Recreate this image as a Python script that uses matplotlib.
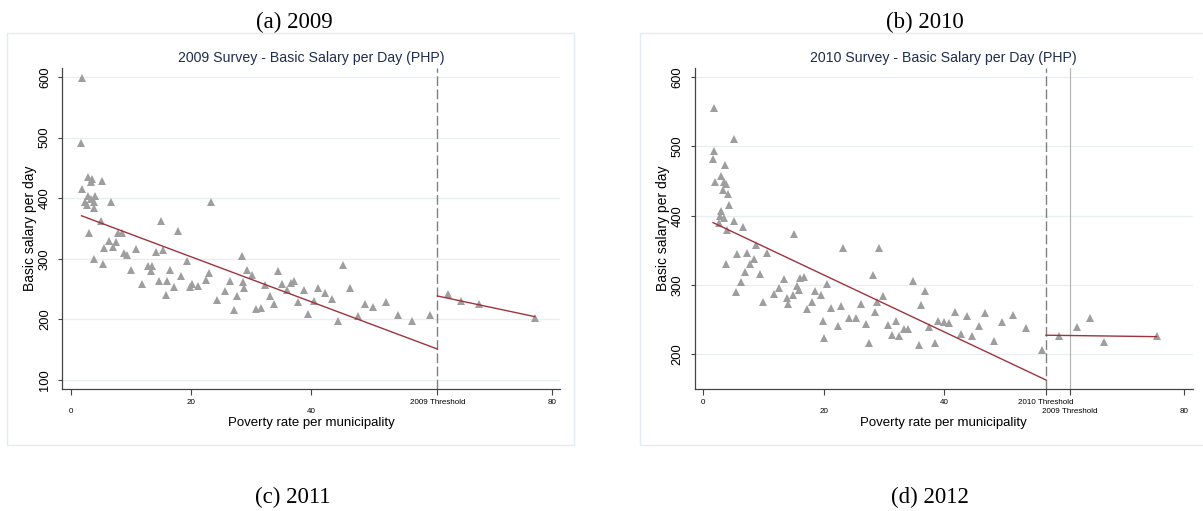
import matplotlib.pyplot as plt
from matplotlib.patches import Rectangle

# 2009 survey: poverty rate per municipality vs basic salary per day
pov_2009 = [1.8, 1.7, 2.9, 3.6, 3.3, 5.2, 1.9, 2.8, 4.05, 2.4,
            3.8, 3.4, 2.7, 3.8, 6.65, 3.05, 5.05, 15.0, 7.9, 8.5,
            17.8, 6.4, 7.5, 5.5, 7.0, 8.9, 9.4, 10.9, 14.2, 15.4,
            3.8, 5.4, 10.0, 12.8, 13.6, 13.4, 11.9, 14.75, 16.0, 16.6,
            18.4, 19.4, 15.8, 17.25, 19.9, 20.1, 21.2, 22.5, 23.0, 23.4,
            24.3, 25.6, 26.5, 27.2, 27.7, 28.5, 28.6, 28.9, 29.3, 30.1,
            30.9, 31.6,
            32.3, 34.5, 33.1, 33.8, 35.2, 35.9, 36.6, 37.1, 37.8, 38.8,
            39.5, 40.5, 41.2, 42.3, 43.4, 44.4, 45.3, 46.4, 47.8, 49.0,
            50.3, 52.5, 54.4, 56.7, 59.7, 62.7, 65.0, 67.9, 77.2]
sal_2009 = [598, 491, 435, 432, 427, 428, 415, 403, 404, 393,
            393, 399, 388, 384, 394, 343, 363, 363, 343, 342,
            346, 330, 327, 317, 319, 310, 306, 316, 312, 314,
            299, 292, 282, 288, 288, 280, 258, 264, 264, 281,
            271, 296, 241, 254, 254, 259, 255, 265, 277, 393,
            232, 246, 264, 216, 239, 305, 261, 251, 281, 273,
            217, 218,
            257, 280, 239, 226, 258, 248, 260, 263, 228, 248,
            209, 231, 252, 244, 234, 197, 289, 251, 206, 226,
            220, 229, 208, 198, 207, 242, 231, 225, 203]

# 2010 survey
pov_2010 = [1.83, 5.16, 1.83, 1.55, 3.55, 2.94, 1.94, 3.5, 3.8, 3.2,
            4.05, 4.3, 3.0, 2.7, 3.4, 2.55, 5.05, 6.6, 3.94, 15.0,
            8.8, 5.6, 7.27, 10.6, 8.4, 3.77, 7.8, 7.0, 9.4, 23.2,
            29.2, 6.3, 5.44, 13.4, 16.1, 16.8, 15.5, 12.6, 11.8, 13.9,
            14.9, 15.9, 9.9, 14.1, 17.25, 18.0, 18.6, 19.5, 20.6, 19.9,
            20.1, 21.3, 22.35, 22.9, 24.2, 25.4, 26.3, 27.1, 27.6, 28.2,
            28.6, 28.9, 29.9, 30.7, 31.4, 32.1, 32.5,
            33.3, 34.1, 34.9, 36.8, 36.2, 35.8, 37.5, 38.5, 39.0, 40.0,
            40.8, 41.8, 42.8, 43.9, 44.7, 45.8, 46.9, 48.4, 49.7, 51.5,
            53.7, 56.4, 59.2, 62.2, 64.3, 66.7, 75.4]
sal_2010 = [556, 510, 494, 482, 473, 457, 448, 448, 446, 437,
            431, 415, 407, 399, 397, 390, 392, 383, 379, 373,
            357, 345, 346, 346, 337, 330, 330, 319, 316, 354,
            353, 305, 290, 309, 310, 311, 298, 295, 287, 281,
            285, 293, 276, 272, 266, 276, 291, 285, 301, 248,
            223, 267, 241, 270, 253, 253, 272, 244, 216, 314,
            261, 276, 284, 243, 228, 248, 227,
            236, 237, 306, 292, 271, 214, 239, 216, 248, 246,
            245, 261, 230, 255, 227, 241, 259, 219, 246, 257,
            238, 206, 227, 239, 252, 218, 226]

# linear fits on each side of the threshold
fit09_lo_x = [1.8, 61.0]
fit09_lo_y = [371, 151]
fit09_hi_x = [61.0, 77.2]
fit09_hi_y = [238.6, 204.5]
fit10_lo_x = [1.6, 57.0]
fit10_lo_y = [390, 163]
fit10_hi_x = [57.0, 75.4]
fit10_hi_y = [227.6, 225.5]

thr_2009 = 61.0
thr_2010 = 57.0

yticks_2009 = [100, 200, 300, 400, 500, 600]
yticks_2010 = [200, 300, 400, 500, 600]

# x tick labels are staggered on two rows
up_ticks_2009 = [20, thr_2009, 80]
up_labels_2009 = ['20', '2009 Threshold', '80']
low_ticks_2009 = [0, 40]
low_labels_2009 = ['0', '40']
up_ticks_2010 = [0, 40, thr_2010]
up_labels_2010 = ['0', '40', '2010 Threshold']
low_ticks_2010 = [20, thr_2009, 80]
low_labels_2010 = ['20', '2009 Threshold', '80']

W, H = 1203, 511
SANS = 'Liberation Sans'
SERIF = 'Liberation Serif'
GRID = '#e7eff1'
AXC = '#444444'
MARK = '#9e9e9e'
FIT = '#a0323c'
TITLE_C = '#1f2d4e'


def px_rect(x0, y0, x1, y1):
    return [x0 / W, 1 - y1 / H, (x1 - x0) / W, (y1 - y0) / H]


def draw_panel(ax, pov, sal, fits, title, yticks, ylim,
               up_t, up_l, low_t, low_l):
    ax.set_facecolor('white')
    ax.plot(pov, sal, linestyle='none', marker='^', ms=6.0,
            mfc=MARK, mec=MARK, mew=0, zorder=3)
    for fx, fy in fits:
        ax.plot(fx, fy, color=FIT, lw=1.0, zorder=4)

    ax.set_xlim(-1.45, 81.4)
    ax.set_ylim(*ylim)

    ax.set_yticks(yticks)
    ax.set_yticklabels([str(v) for v in yticks], rotation=90,
                       va='center', family=SANS, fontsize=9.3)
    ax.tick_params(axis='y', direction='out', length=3, width=0.8,
                   color=AXC, pad=5)

    ax.set_xticks(up_t)
    ax.set_xticklabels(up_l, family=SANS, fontsize=5.8)
    ax.set_xticks(low_t, minor=True)
    ax.set_xticklabels(low_l, minor=True, family=SANS, fontsize=5.8)
    ax.tick_params(axis='x', which='major', direction='out', length=4.3,
                   width=0.8, color=AXC, pad=2.8)
    ax.tick_params(axis='x', which='minor', direction='out', length=4.3,
                   width=0.8, color=AXC, pad=9.3)

    ax.yaxis.grid(True, color=GRID, lw=1.0)
    ax.xaxis.grid(False)
    ax.set_axisbelow(True)

    for s in ['top', 'right']:
        ax.spines[s].set_visible(False)
    for s in ['left', 'bottom']:
        ax.spines[s].set_color(AXC)
        ax.spines[s].set_linewidth(0.9)

    ax.set_xlabel('Poverty rate per municipality', family=SANS,
                  fontsize=9.5, va='center')
    ax.xaxis.set_label_coords(0.5, -0.106)
    ax.set_ylabel('Basic salary per day', family=SANS, fontsize=10,
                  va='center')
    ax.yaxis.set_label_coords(-0.064, 0.5)

    ax.text(0.5, 1.031, title, transform=ax.transAxes, ha='center',
            va='center', family=SANS, fontsize=10.2, color=TITLE_C)


fig = plt.figure(figsize=(W / 100, H / 100), dpi=100)

# light frames around each graph, kept behind the axes
for x0, x1 in [(6.5, 574), (640, 1208)]:
    r = Rectangle((x0 / W, 1 - 445 / H), (x1 - x0) / W, (445 - 33) / H,
                  transform=fig.transFigure, facecolor='white',
                  edgecolor='#e3ecee', lw=1.0, zorder=-1)
    fig.patches.append(r)

ax1 = fig.add_axes(px_rect(62, 68, 560, 389))
draw_panel(ax1, pov_2009, sal_2009,
           [(fit09_lo_x, fit09_lo_y), (fit09_hi_x, fit09_hi_y)],
           '2009 Survey - Basic Salary per Day (PHP)', yticks_2009, (85, 615),
           up_ticks_2009, up_labels_2009, low_ticks_2009, low_labels_2009)
ax1.axvline(thr_2009, color='#808080', lw=1.0, ls=(0, (7, 2.5)), zorder=2)

ax2 = fig.add_axes(px_rect(694.7, 68, 1192.6, 389))
draw_panel(ax2, pov_2010, sal_2010,
           [(fit10_lo_x, fit10_lo_y), (fit10_hi_x, fit10_hi_y)],
           '2010 Survey - Basic Salary per Day (PHP)', yticks_2010, (150, 613),
           up_ticks_2010, up_labels_2010, low_ticks_2010, low_labels_2010)
ax2.axvline(thr_2010, color='#808080', lw=1.0, ls=(0, (7, 2.5)), zorder=2)
ax2.axvline(thr_2009, color='#b8b8b8', lw=0.9, zorder=2)

# sub-figure captions
fig.text(294 / W, 1 - 22.5 / H, '(a) 2009', family=SERIF, fontsize=16.5,
         ha='center', va='center')
fig.text(925 / W, 1 - 22.5 / H, '(b) 2010', family=SERIF, fontsize=16.5,
         ha='center', va='center')
fig.text(293 / W, 1 - 497 / H, '(c) 2011', family=SERIF, fontsize=16.5,
         ha='center', va='center')
fig.text(930 / W, 1 - 497 / H, '(d) 2012', family=SERIF, fontsize=16.5,
         ha='center', va='center')

fig.savefig('out.png', dpi=100)
